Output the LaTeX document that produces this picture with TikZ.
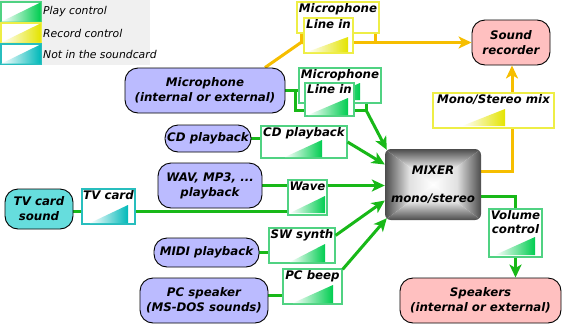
\documentclass[tikz,border=0pt]{standalone}
\usepackage{fontspec}
\setmainfont{DejaVu Sans}
\usetikzlibrary{arrows.meta,calc,backgrounds}
\definecolor{lav}{RGB}{187,187,255}
\definecolor{pinkf}{RGB}{255,192,192}
\definecolor{cyanf}{RGB}{102,221,221}
\definecolor{gline}{RGB}{24,184,24}
\definecolor{yline}{RGB}{246,190,0}
\definecolor{gbord}{RGB}{80,210,130}
\definecolor{gtri}{RGB}{0,205,80}
\definecolor{ybord}{RGB}{238,238,70}
\definecolor{ytri}{RGB}{228,228,0}
\definecolor{cbord}{RGB}{40,190,190}
\definecolor{ctri}{RGB}{0,185,185}
\definecolor{legbg}{RGB}{240,240,240}
\begin{document}
\begin{tikzpicture}[x=1pt,y=-1pt,
  >={Stealth[length=13pt,width=12pt,inset=3.5pt]},
  txt/.style={font=\fontsize{11.8}{15}\selectfont\bfseries\itshape, align=center},
  src/.style={txt, draw=black, line width=0.9pt, rounded corners=13pt, inner sep=0pt},
  ctl/.style={draw=#1, line width=1.2pt, fill=white, inner sep=0pt},
  lab/.style={txt, anchor=north, inner sep=1pt},
  legtxt/.style={font=\fontsize{10.8}{12}\selectfont\itshape, anchor=west, inner sep=0pt},
  gl/.style={draw=gline, line width=3pt},
  yl/.style={draw=yline, line width=3pt}]
\useasboundingbox (0,0) rectangle (565,330);
% legend
\fill[legbg] (0,0) rectangle (150,65);
\node[ctl=gbord, minimum width=40pt, minimum height=20pt] (lg1) at (21,12) {};
\shade[left color=white, right color=gtri] ($(lg1.south west)+(1,-1)$) -- ($(lg1.south east)+(-1,-1)$) -- ($(lg1.north east)+(-1,1)$) -- cycle;
\node[legtxt] (lt1) at (43,12) {Play control};
\node[ctl=ybord, minimum width=40pt, minimum height=20pt] (lg2) at (21,33) {};
\shade[left color=white, right color=ytri] ($(lg2.south west)+(1,-1)$) -- ($(lg2.south east)+(-1,-1)$) -- ($(lg2.north east)+(-1,1)$) -- cycle;
\node[legtxt] (lt2) at (43,33) {Record control};
\node[ctl=cbord, minimum width=40pt, minimum height=20pt] (lg3) at (21,54) {};
\shade[left color=white, right color=ctri] ($(lg3.south west)+(1,-1)$) -- ($(lg3.south east)+(-1,-1)$) -- ($(lg3.north east)+(-1,1)$) -- cycle;
\node[legtxt] (lt3) at (43,54) {Not in the soundcard};
% mixer body
\begin{scope}
\clip[rounded corners=6pt] (385,149) rectangle (481,220);
\shade[left color=black!70, right color=white, middle color=black!12] (385,149) -- (433,184.5) -- (385,220) -- cycle;
\shade[left color=white, right color=black!70, middle color=black!12] (481,149) -- (433,184.5) -- (481,220) -- cycle;
\shade[top color=black!70, bottom color=white, middle color=black!12] (385,149) -- (481,149) -- (433,184.5) -- cycle;
\shade[top color=white, bottom color=black!70, middle color=black!12] (385,220) -- (481,220) -- (433,184.5) -- cycle;
\end{scope}
\node[txt, minimum width=96pt, minimum height=71pt] (m) at (433,184.5) {MIXER\\[13pt]mono/stereo};
% sources
\node[src, fill=lav, minimum width=160pt, minimum height=45pt] (mic) at (205,90.5) {Microphone\\(internal or external)};
\node[src, fill=lav, minimum width=86pt, minimum height=27pt] (cd) at (208,138.5) {CD playback};
\node[src, fill=lav, minimum width=104pt, minimum height=45pt] (wav) at (210,185.5) {WAV, MP3, ...\\playback};
\node[src, fill=cyanf, minimum width=68pt, minimum height=40pt] (tv) at (39,209) {TV card\\sound};
\node[src, fill=lav, minimum width=105pt, minimum height=29pt] (midi) at (206.5,252.5) {MIDI playback};
\node[src, fill=lav, minimum width=128pt, minimum height=45pt] (pcs) at (204,300.5) {PC speaker\\(MS-DOS sounds)};
\node[src, fill=pinkf, minimum width=78pt, minimum height=45pt] (rec) at (511,42.5) {Sound\\recorder};
\node[src, fill=pinkf, minimum width=161pt, minimum height=45pt] (spk) at (480.5,300.5) {Speakers\\(internal or external)};
% control boxes
\node[ctl=ybord, minimum width=82pt, minimum height=31pt] (ylo) at (338,17.5) {};
\node[lab] at ([yshift=-1pt]ylo.north) {Microphone};
\node[ctl=ybord, minimum width=49pt, minimum height=35pt] (ylin) at (328.5,35.5) {};
\node[lab] at ([yshift=-1pt]ylin.north) {Line in};
\shade[left color=white, right color=ytri] (307,52) -- (348,52) -- (348,37) -- cycle;
\node[ctl=gbord, minimum width=82pt, minimum height=35pt] (gmo) at (340,85.5) {};
\node[lab] at ([yshift=-1pt]gmo.north) {Microphone};
\shade[left color=white, right color=gtri] (320,100) -- (360,100) -- (360,83) -- cycle;
\node[ctl=gbord, minimum width=49pt, minimum height=33pt] (gin) at (329.5,99.5) {};
\node[lab] at ([yshift=-1pt]gin.north) {Line in};
\shade[left color=white, right color=gtri] (308,115) -- (348,115) -- (348,98) -- cycle;
\node[ctl=gbord, minimum width=86pt, minimum height=32pt] (cdb) at (304,142) {};
\node[lab] at ([yshift=-1pt]cdb.north) {CD playback};
\shade[left color=white, right color=gtri] (285,157) -- (322,157) -- (322,140) -- cycle;
\node[ctl=gbord, minimum width=39pt, minimum height=35pt] (wave) at (307.5,197.5) {};
\node[lab] at ([yshift=-1pt]wave.north) {Wave};
\shade[left color=white, right color=gtri] (290,213) -- (325,213) -- (325,196) -- cycle;
\node[ctl=cbord, minimum width=53pt, minimum height=35pt] (tvb) at (108.5,206.5) {};
\node[lab] at ([yshift=-1pt]tvb.north) {TV card};
\shade[left color=white, right color=ctri] (90,223) -- (128,223) -- (128,205) -- cycle;
\node[ctl=gbord, minimum width=66pt, minimum height=35pt] (sws) at (302,245.5) {};
\node[lab] at ([yshift=-1pt]sws.north) {SW synth};
\shade[left color=white, right color=gtri] (290,262) -- (325,262) -- (325,244) -- cycle;
\node[ctl=gbord, minimum width=59pt, minimum height=35pt] (pcb) at (312.5,286.5) {};
\node[lab] at ([yshift=-1pt]pcb.north) {PC beep};
\shade[left color=white, right color=gtri] (293,303) -- (333,303) -- (333,285) -- cycle;
\node[ctl=ybord, minimum width=121pt, minimum height=35pt] (mix) at (493.5,110.5) {};
\node[lab] at ([yshift=-1pt]mix.north) {Mono/Stereo mix};
\shade[left color=white, right color=ytri] (462,126) -- (505,126) -- (505,109) -- cycle;
\node[ctl=gbord, minimum width=53pt, minimum height=48pt] (vol) at (515.5,233) {};
\node[lab, font=\fontsize{11.8}{14}\selectfont\bfseries\itshape] at ([yshift=-1pt]vol.north) {Volume\\control};
\shade[left color=white, right color=gtri] (495,255) -- (535,255) -- (535,237) -- cycle;
% connectors
\coordinate (yj1) at (301,42.5);
\coordinate (yj2) at (375,42.5);
\coordinate (yj3) at (512,171);
\coordinate (gj1) at (295,90.5);
\coordinate (gj2) at (295,110);
\coordinate (gj3) at (366,110);
\coordinate (gj4) at (481,196);
\coordinate (tvj) at (0,211);
\begin{pgfonlayer}{background}
\draw[yl] ($(mic.north)+(60,0)$) -- (yj1) -- (ylin.west |- yj1);
\draw[yl] (ylo.south -| yj1) -- (yj1);
\draw[yl] (ylo.south -| yj2) -- (yj2);
\draw[yl] ($(m.east)+(0,-13.5)$) -- (yj3) -- (mix.south -| yj3);
\draw[gl] (mic.east) -- (gmo.west |- mic.east);
\draw[gl] (gj1) -- (gj2) -- (gin.west |- gj2);
\draw[gl] (gin.east |- gj3) -- (gj3);
\draw[gl] (gmo.south -| gj3) -- (gj3);
\draw[gl] (cd.east) -- (cdb.west |- cd.east);
\draw[gl] (tv.east |- tvj) -- (tvb.west |- tvj);
\draw[gl] (tvb.east |- tvj) -- (wave.west |- tvj);
\draw[gl] (midi.east) -- (sws.west |- midi.east);
\draw[gl] ($(pcs.east)+(0,-5)$) -- (pcb.west |- {$(pcs.east)+(0,-5)$});
\draw[gl] (gj4) -- (vol.north |- gj4) -- (vol.north);
\draw[gl,->] (wav.east) -- (m.west |- wav.east);
\end{pgfonlayer}
\draw[yl,->] (ylin.east |- rec.west) -- (rec.west);
\draw[yl,->] (mix.north -| yj3) -- (rec.south -| yj3);
\draw[gl,->] (gj3) -- ($(m.north west)+(2,1)$);
\draw[gl,->] (cdb.east) -- ($(m.west)+(0,-20)$);
\draw[gl,->] ($(sws.north east)+(0,8)$) -- ($(m.west)+(0,16)$);
\draw[gl,->] ($(pcb.north east)+(0,1)$) -- ($(m.south west)+(2,-2)$);
\draw[gl,->] (vol.south) -- (vol.south |- spk.north);
\end{tikzpicture}
\end{document}
